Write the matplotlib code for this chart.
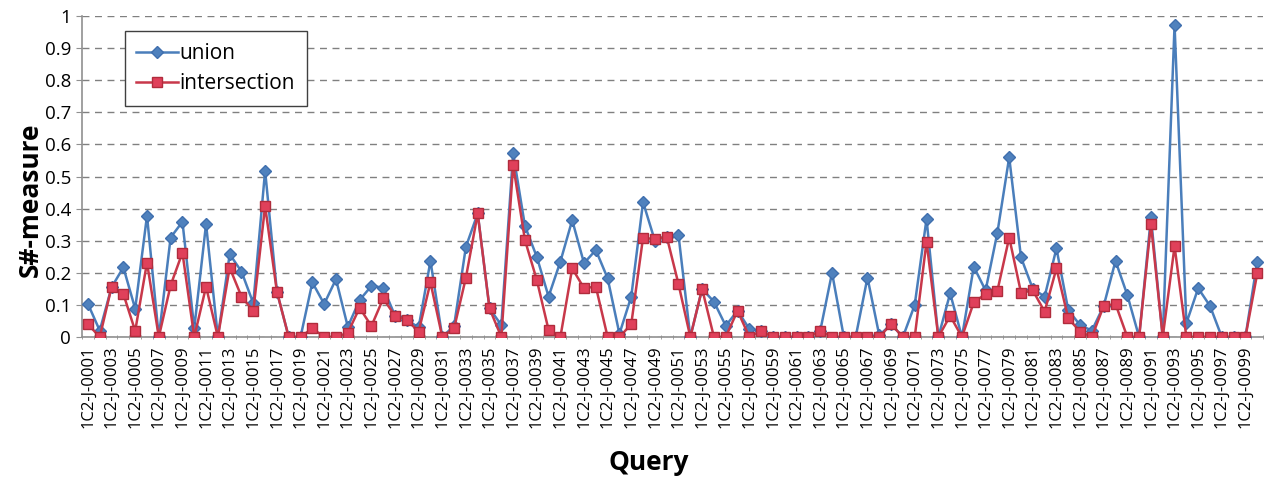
import numpy as np
import matplotlib
matplotlib.use('Agg')
import matplotlib.pyplot as plt

plt.rcParams['font.family'] = ['Open Sans', 'DejaVu Sans']

queries = ['1C2-J-%04d' % i for i in range(1, 101)]

union = [0.103, 0.02, 0.155, 0.217, 0.088, 0.378, 0.0, 0.31, 0.359, 0.027,
         0.352, 0.0, 0.258, 0.204, 0.105, 0.518, 0.141, 0.0, 0.0, 0.17,
         0.103, 0.18, 0.032, 0.115, 0.159, 0.154, 0.066, 0.053, 0.03, 0.237,
         0.0, 0.035, 0.281, 0.385, 0.089, 0.037, 0.572, 0.346, 0.25, 0.126,
         0.235, 0.364, 0.23, 0.271, 0.183, 0.01, 0.126, 0.42, 0.30, 0.313,
         0.318, 0.0, 0.15, 0.11, 0.035, 0.082, 0.025, 0.019, 0.0, 0.0,
         0.0, 0.0, 0.019, 0.2, 0.0, 0.0, 0.185, 0.005, 0.04, 0.0,
         0.1, 0.368, 0.0, 0.136, 0.0, 0.219, 0.145, 0.325, 0.56, 0.248,
         0.15, 0.126, 0.276, 0.084, 0.037, 0.02, 0.097, 0.237, 0.131, 0.0,
         0.373, 0.0, 0.972, 0.043, 0.152, 0.097, 0.0, 0.0, 0.0, 0.235]

intersection = [0.04, 0.0, 0.156, 0.134, 0.019, 0.232, 0.0, 0.161, 0.263, 0.0,
                0.157, 0.0, 0.216, 0.126, 0.081, 0.408, 0.141, 0.0, 0.0, 0.027,
                0.0, 0.0, 0.013, 0.091, 0.034, 0.12, 0.066, 0.053, 0.017, 0.17,
                0.0, 0.027, 0.185, 0.385, 0.089, 0.0, 0.536, 0.302, 0.178, 0.022,
                0.0, 0.214, 0.152, 0.157, 0.0, 0.0, 0.04, 0.31, 0.304, 0.313,
                0.165, 0.0, 0.15, 0.0, 0.0, 0.082, 0.0, 0.019, 0.0, 0.0,
                0.0, 0.0, 0.019, 0.0, 0.0, 0.0, 0.0, 0.0, 0.04, 0.0,
                0.0, 0.297, 0.0, 0.066, 0.0, 0.108, 0.134, 0.144, 0.31, 0.138,
                0.145, 0.079, 0.214, 0.058, 0.017, 0.0, 0.097, 0.103, 0.0, 0.0,
                0.352, 0.0, 0.283, 0.0, 0.0, 0.0, 0.0, 0.0, 0.0, 0.198]

fig = plt.figure(figsize=(12.7, 4.82), dpi=100)
ax = fig.add_axes([0.0646, 0.3008, 0.930, 0.666])

x = np.arange(len(queries))
ax.plot(x, union, color='#4a7ebb', lw=1.8, marker='D', ms=6,
        mfc='#4f81bd', mec='#3f6fae', label='union', zorder=3)
ax.plot(x, intersection, color='#c8384a', lw=1.8, marker='s', ms=7.5,
        mfc='#e0405a', mec='#b02c3c', label='intersection', zorder=4)

ax.set_xlim(-0.5, len(queries) - 0.5)
ax.set_ylim(0, 1)
yt = np.arange(0, 1.01, 0.1)
ax.set_yticks(yt)
ax.set_yticklabels(['%g' % round(v, 1) for v in yt], fontsize=13.5)
ax.yaxis.grid(True, linestyle=(0, (5, 4)), color='#808080', lw=1.0)
ax.set_axisbelow(True)

ax.set_xticks(x[::2])
ax.set_xticklabels(queries[::2], rotation=90, fontsize=12)
ax.set_xticks(np.arange(-0.5, len(queries), 1), minor=True)
ax.tick_params(axis='x', which='major', length=0, pad=6)
ax.tick_params(axis='x', which='minor', length=3, direction='inout', color='#909090')
ax.tick_params(axis='y', length=4, color='#909090', pad=4)

for s in ['top', 'right']:
    ax.spines[s].set_visible(False)
for s in ['left', 'bottom']:
    ax.spines[s].set_color('#909090')
    ax.spines[s].set_linewidth(1.2)

ax.set_ylabel('S#-measure', fontsize=19, fontweight='bold', va='center')
ax.yaxis.set_label_coords(-0.044, 0.427)
ax.set_xlabel('Query', fontsize=19, fontweight='bold', va='center')
ax.xaxis.set_label_coords(0.48, -0.39)

leg = ax.legend(loc='upper left', bbox_to_anchor=(0.036, 0.952), fontsize=15,
                fancybox=False, framealpha=1, edgecolor='#404040',
                handlelength=2.0, handletextpad=0.1, borderpad=0.55,
                labelspacing=0.45, borderaxespad=0)
leg.get_frame().set_linewidth(1.0)

fig.savefig('out.png', dpi=100)
